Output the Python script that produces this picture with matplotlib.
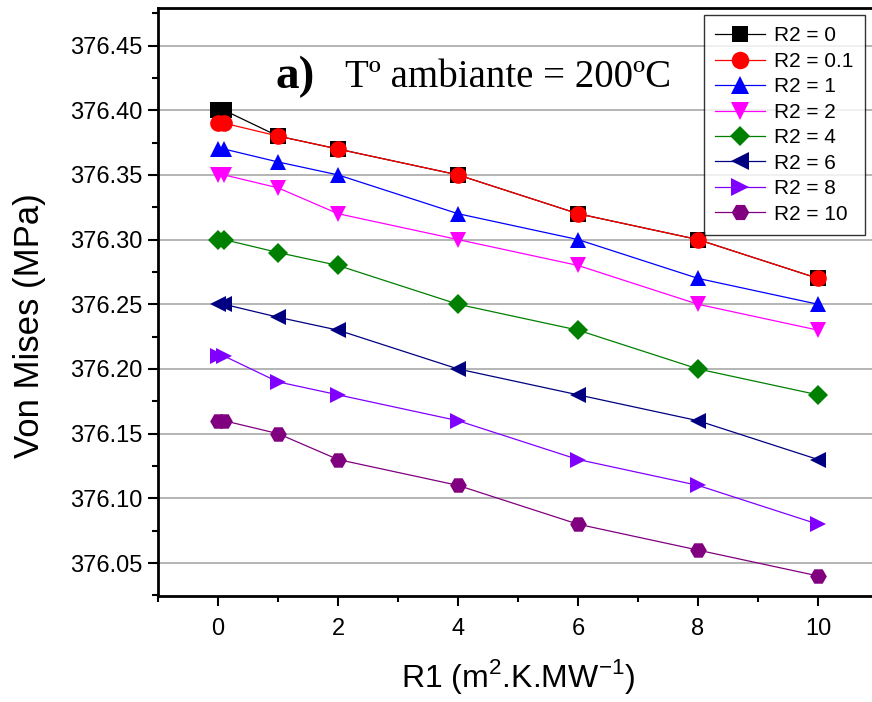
import matplotlib
matplotlib.use("Agg")
import matplotlib.pyplot as plt
from matplotlib.ticker import MultipleLocator, FormatStrFormatter

# --- data ---
r1 = [0, 0.1, 1, 2, 4, 6, 8, 10]
labels = ["R2 = 0", "R2 = 0.1", "R2 = 1", "R2 = 2", "R2 = 4", "R2 = 6", "R2 = 8", "R2 = 10"]
vm_r2_0 = [376.40, 376.40, 376.38, 376.37, 376.35, 376.32, 376.30, 376.27]
vm_r2_01 = [376.39, 376.39, 376.38, 376.37, 376.35, 376.32, 376.30, 376.27]
vm_r2_1 = [376.37, 376.37, 376.36, 376.35, 376.32, 376.30, 376.27, 376.25]
vm_r2_2 = [376.35, 376.35, 376.34, 376.32, 376.30, 376.28, 376.25, 376.23]
vm_r2_4 = [376.30, 376.30, 376.29, 376.28, 376.25, 376.23, 376.20, 376.18]
vm_r2_6 = [376.25, 376.25, 376.24, 376.23, 376.20, 376.18, 376.16, 376.13]
vm_r2_8 = [376.21, 376.21, 376.19, 376.18, 376.16, 376.13, 376.11, 376.08]
vm_r2_10 = [376.16, 376.16, 376.15, 376.13, 376.11, 376.08, 376.06, 376.04]

series = [vm_r2_0, vm_r2_01, vm_r2_1, vm_r2_2, vm_r2_4, vm_r2_6, vm_r2_8, vm_r2_10]
colors = ["black", "red", "blue", "magenta", "#008000", "#000080", "#8000ff", "#800080"]
markers = ["s", "o", "^", "v", "D", "<", ">", "H"]
sizes = [11, 12, 12, 12, 10, 12, 12, 12]

plt.rcParams['font.family'] = ['Liberation Sans', 'DejaVu Sans']
plt.rcParams['mathtext.fontset'] = 'custom'
plt.rcParams['mathtext.rm'] = 'Liberation Sans'

fig = plt.figure(figsize=(8.72, 7.02), dpi=100)
ax = fig.add_axes([158 / 872, 106 / 702, 720 / 872, 588 / 702])

for y, c, m, s, lab in zip(series, colors, markers, sizes, labels):
    ax.plot(r1, y, color=c, marker=m, markersize=s, lw=0.9, label=lab,
            markeredgewidth=0)

ax.set_xlim(-1, 11)
ax.set_ylim(376.0245, 376.479)
ax.xaxis.set_major_locator(MultipleLocator(2))
ax.xaxis.set_minor_locator(MultipleLocator(1))
ax.yaxis.set_major_locator(MultipleLocator(0.05))
ax.yaxis.set_minor_locator(MultipleLocator(0.025))
ax.yaxis.set_major_formatter(FormatStrFormatter('%.2f'))
ax.grid(axis='y', which='major', color='#a8a8a8', lw=1.2)
ax.set_axisbelow(True)

ax.tick_params(which='major', direction='out', length=7, width=1.5, labelsize=17)
ax.tick_params(which='minor', direction='out', length=4, width=1.5)
ax.tick_params(axis='y', pad=4)
ax.tick_params(axis='x', pad=9)
for sp in ax.spines.values():
    sp.set_linewidth(2)

ax.set_ylabel("Von Mises (MPa)", fontsize=25)
ax.yaxis.set_label_coords(-0.155, 0.46)
ax.set_xlabel("R1 (m$^{\\mathrm{2}}$.K.MW$^{\\mathrm{-1}}$)", fontsize=23, labelpad=12)

fig.text(275 / 872, 1 - 88 / 702, "a)", fontsize=34, fontweight='bold',
         family='Liberation Serif', va='baseline')
fig.text(345 / 872, 1 - 87 / 702, "Tº ambiante = 200ºC", fontsize=28,
         family='Liberation Serif', va='baseline')

leg = ax.legend(loc='upper left', bbox_to_anchor=(704 / 872, 1 - 15 / 702),
                bbox_transform=fig.transFigure, fontsize=15, frameon=True,
                fancybox=False, edgecolor='black', handlelength=2.4,
                labelspacing=0.31, borderpad=0.55, handletextpad=0.4,
                borderaxespad=0, markerscale=1.05)
leg.get_frame().set_linewidth(1)

fig.savefig("out.png", dpi=100)
